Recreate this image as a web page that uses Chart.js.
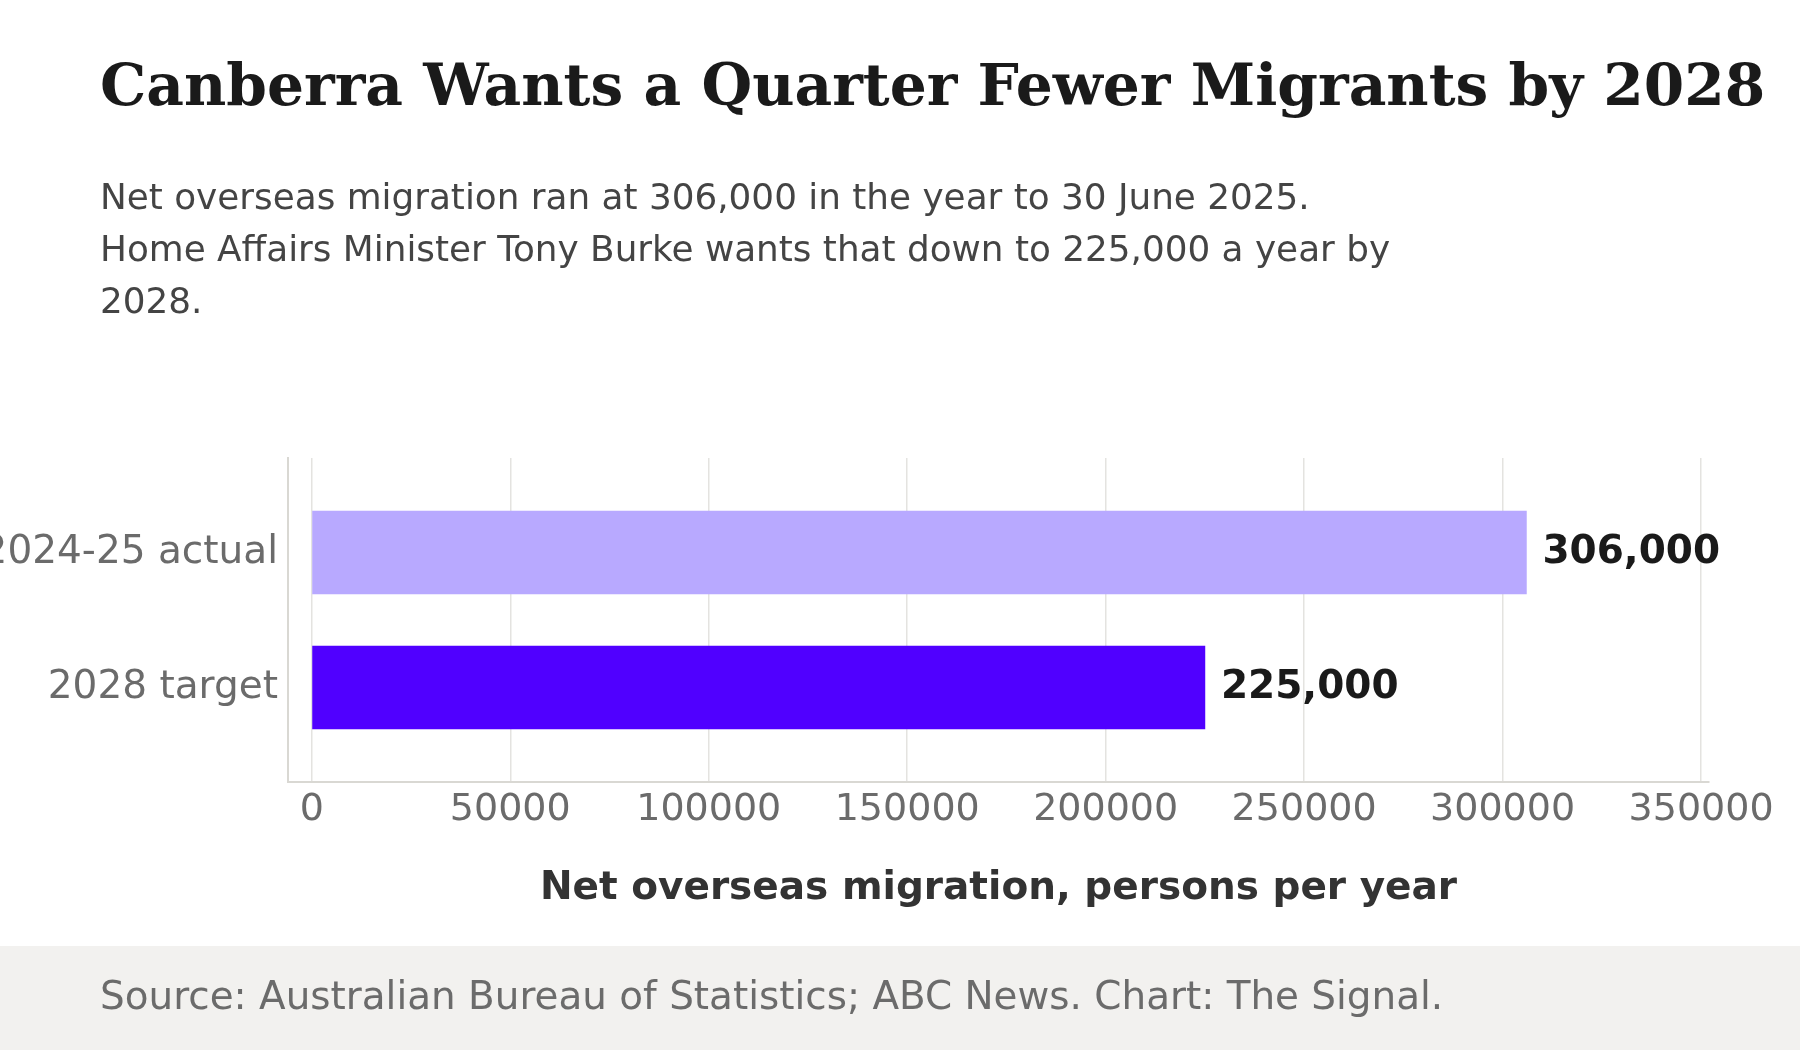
<!DOCTYPE html>
<html>
<head>
<meta charset="utf-8">
<script src="https://cdn.jsdelivr.net/npm/chart.js@4.4.1/dist/chart.umd.min.js"></script>
<style>
  html, body { margin: 0; padding: 0; background: #ffffff; }
  #wrap { width: 1800px; height: 1050px; position: relative; }
</style>
</head>
<body>
<div id="wrap"><canvas id="myChart"></canvas></div>
<script>
// data
const categories = ['2024-25 actual', '2028 target'];
const migration = [306000, 225000];
const barColors = ['rgb(184, 169, 255)', 'rgb(80, 0, 255)'];
const xTicks = [0, 50000, 100000, 150000, 200000, 250000, 300000, 350000];

const titleText = 'Canberra Wants a Quarter Fewer Migrants by 2028';
const subtitleLines = [
  'Net overseas migration ran at 306,000 in the year to 30 June 2025.',
  'Home Affairs Minister Tony Burke wants that down to 225,000 a year by',
  '2028.'
];
const sourceText = 'Source: Australian Bureau of Statistics; ABC News. Chart: The Signal.';

// header, subtitle and footer band
const frameText = {
  id: 'frameText',
  beforeDraw(chart) {
    const {ctx, width, height} = chart;
    ctx.save();
    ctx.fillStyle = '#ffffff';
    ctx.fillRect(0, 0, width, height);
    ctx.fillStyle = '#f2f1ef';
    ctx.fillRect(0, 946, width, height - 946);

    ctx.textAlign = 'left';
    ctx.textBaseline = 'alphabetic';
    ctx.fillStyle = '#1a1a1a';
    ctx.font = 'bold 58.2px "DejaVu Serif"';
    ctx.fillText(titleText, 100, 105);

    ctx.fillStyle = '#444444';
    ctx.font = '35.8px "DejaVu Sans"';
    subtitleLines.forEach((line, i) => {
      ctx.fillText(line, 100, 209 + i * 52);
    });

    ctx.fillStyle = '#6b6b6b';
    ctx.font = '38.9px "DejaVu Sans"';
    ctx.fillText(sourceText, 100, 1009);
    ctx.restore();
  }
};

// value labels at the end of each bar
const barValues = {
  id: 'barValues',
  afterDatasetsDraw(chart) {
    const {ctx} = chart;
    const meta = chart.getDatasetMeta(0);
    ctx.save();
    ctx.font = 'bold 39px "DejaVu Sans"';
    ctx.fillStyle = '#1a1a1a';
    ctx.textAlign = 'left';
    ctx.textBaseline = 'middle';
    meta.data.forEach((bar, i) => {
      const v = chart.data.datasets[0].data[i];
      ctx.fillText(v.toLocaleString('en-US'), bar.x + 16, bar.y);
    });
    ctx.restore();
  }
};

const data = {
  labels: categories,
  datasets: [{
    data: migration,
    backgroundColor: barColors,
    borderWidth: 0,
    barThickness: 83
  }]
};

const options = {
  indexAxis: 'y',
  responsive: true,
  maintainAspectRatio: false,
  animation: false,
  layout: {
    padding: {left: 0, right: 91, top: 458, bottom: 118}
  },
  plugins: {
    legend: { display: false },
    tooltip: { enabled: false },
    title: { display: false }
  },
  scales: {
    x: {
      type: 'linear',
      min: -6000,
      max: 352000,
      afterBuildTicks(axis) {
        axis.ticks = xTicks.map(v => ({value: v}));
      },
      afterFit(axis) {
        axis.height = 150;
      },
      grid: {
        color: '#e4e3e0',
        lineWidth: 1.5,
        drawTicks: false
      },
      border: { display: true, color: '#d9d8d3', width: 2 },
      ticks: {
        padding: 5,
        color: '#6b6b6b',
        font: { family: 'DejaVu Sans', size: 38 },
        maxRotation: 0,
        callback: v => String(v)
      },
      title: {
        display: true,
        text: 'Net overseas migration, persons per year',
        color: '#333333',
        font: { family: 'DejaVu Sans', size: 39, weight: 'bold' },
        padding: { top: 0, bottom: 20 }
      }
    },
    y: {
      type: 'category',
      afterBuildTicks(axis) {
        // leave extra room above and below the two bars
        axis._startValue = -0.7;
        axis._valueRange = 2.4;
      },
      afterFit(axis) {
        axis.width = 288;
      },
      grid: { display: false, drawTicks: false },
      border: { display: true, color: '#d9d8d3', width: 2 },
      ticks: {
        padding: 10,
        color: '#6b6b6b',
        font: { family: 'DejaVu Sans', size: 39 }
      }
    }
  }
};

const myChart = new Chart(
  document.getElementById('myChart'),
  {
    type: 'bar',
    data,
    options,
    plugins: [frameText, barValues]
  }
);
</script>
</body>
</html>
